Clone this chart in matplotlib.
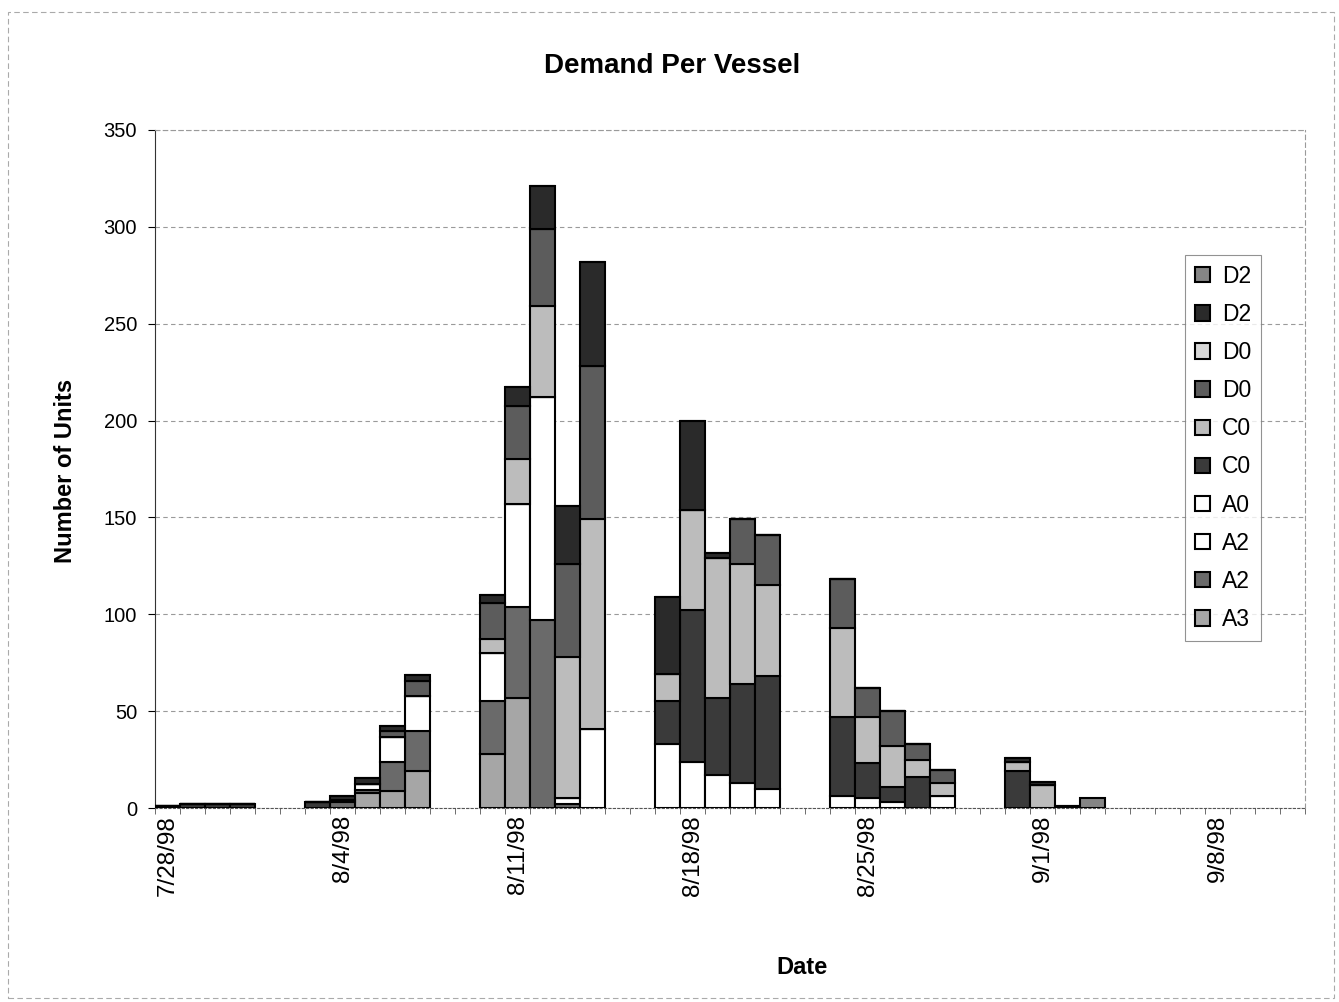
import numpy as np
import matplotlib
matplotlib.use("Agg")
import matplotlib.pyplot as plt
import matplotlib.dates as mdates
from matplotlib.patches import Rectangle
from matplotlib.ticker import FixedLocator, FuncFormatter

plt.rcParams['font.family'] = ['Liberation Sans', 'DejaVu Sans']

# shipping days with demand
dates = ['1998-07-28', '1998-07-29', '1998-07-30', '1998-07-31',
         '1998-08-03', '1998-08-04', '1998-08-05', '1998-08-06', '1998-08-07',
         '1998-08-10', '1998-08-11', '1998-08-12', '1998-08-13', '1998-08-14',
         '1998-08-17', '1998-08-18', '1998-08-19', '1998-08-20', '1998-08-21',
         '1998-08-24', '1998-08-25', '1998-08-26', '1998-08-27', '1998-08-28',
         '1998-08-31', '1998-09-01', '1998-09-02', '1998-09-03']

# units per vessel type, stacked bottom to top
a3      = [0, 0, 0, 0, 0, 0, 8, 9, 19, 28, 57, 0, 0, 0, 0, 0, 0, 0, 0, 0, 0, 0, 0, 0, 0, 0, 0, 0]
a2_dk   = [0, 0, 0, 0, 0, 3, 1.5, 15, 21, 27, 47, 97, 2, 0, 0, 0, 0, 0, 0, 0, 0, 0, 0, 0, 0, 0, 0, 0]
a2_wh   = [0, 0, 0, 0, 0, 1, 3, 12.5, 18, 25, 53, 115, 3, 41, 0, 0, 0, 0, 0, 0, 0, 0, 0, 0, 0, 0, 0, 0]
a0      = [0, 0, 0, 0, 0, 0, 0, 0, 0, 0, 0, 0, 0, 0, 33, 24, 17, 13, 10, 6, 5, 3, 0, 6, 0, 0, 0, 0]
c0_dk   = [1, 2, 2, 2, 3, 0, 0, 0, 0, 0, 0, 0, 0, 0, 22, 78, 40, 51, 58, 41, 18, 8, 16, 0, 19, 0, 0, 0]
c0_lt   = [0, 0, 0, 0, 0, 0, 0, 0, 0, 7, 23, 47, 73, 108, 14, 52, 72, 62, 47, 46, 24, 21, 9, 7, 4.5, 12, 0, 0]
d0_dk   = [0, 0, 0, 0, 0, 0, 0, 3.5, 7.5, 19, 27.5, 40, 48, 79, 0, 0, 0, 23, 26, 25, 15, 18, 8, 6.5, 0, 0, 0, 0]
d0_lt   = [0] * 28
d2_dk   = [0, 0, 0, 0, 0, 2, 3, 2.5, 3, 4, 10, 22, 30, 54, 40, 46, 2.5, 0, 0, 0, 0, 0, 0, 0, 2.5, 1.5, 1, 0]
d2_md   = [0, 0, 0, 0, 0, 0, 0, 0, 0, 0, 0, 0, 0, 0, 0, 0, 0, 0, 0, 0, 0, 0, 0, 0, 0, 0, 0, 5]

series = [
    ('A3', a3, '#a6a6a6'),
    ('A2', a2_dk, '#6a6a6a'),
    ('A2', a2_wh, '#ffffff'),
    ('A0', a0, '#ffffff'),
    ('C0', c0_dk, '#3a3a3a'),
    ('C0', c0_lt, '#bcbcbc'),
    ('D0', d0_dk, '#5c5c5c'),
    ('D0', d0_lt, '#d8d8d8'),
    ('D2', d2_dk, '#2a2a2a'),
    ('D2', d2_md, '#858585'),
]

week_ticks = ['1998-07-28', '1998-08-04', '1998-08-11', '1998-08-18',
              '1998-08-25', '1998-09-01', '1998-09-08']

x = np.array([mdates.datestr2num(d) for d in dates])
xt = np.array([mdates.datestr2num(d) for d in week_ticks])
x0 = mdates.datestr2num('1998-07-28')
x1 = mdates.datestr2num('1998-09-11')

fig = plt.figure(figsize=(13.39, 10.02), dpi=100)
ax = fig.add_axes([0.1158, 0.1936, 0.8588, 0.6767])

bottom = np.zeros(len(dates))
handles = []
for name, vals, col in series:
    vals = np.array(vals, dtype=float)
    b = ax.bar(x, vals, width=1.0, bottom=bottom, color=col,
               edgecolor='black', linewidth=1.5, label=name, zorder=3)
    handles.append(b)
    bottom += vals

ax.set_xlim(x0 - 0.5, x1 + 0.5)
ax.set_ylim(0, 350)
ax.set_yticks(np.arange(0, 351, 50))
ax.yaxis.grid(True, linestyle=(0, (4, 3)), color='#9a9a9a', linewidth=0.8, zorder=0)

ax.xaxis.set_major_locator(FixedLocator(xt))
ax.xaxis.set_major_formatter(FuncFormatter(
    lambda v, p: '{d.month}/{d.day}/{y}'.format(d=mdates.num2date(v), y=mdates.num2date(v).strftime('%y'))))
ax.xaxis.set_minor_locator(FixedLocator(np.arange(x0 - 0.5, x1 + 1.0, 1.0)))
ax.tick_params(axis='x', which='major', length=0, pad=5, labelsize=17.5, labelrotation=90)
ax.tick_params(axis='x', which='minor', length=4, direction='out', color='#555555')
ax.tick_params(axis='y', which='major', length=5, direction='out', labelsize=14.5, pad=8)

ax.spines['left'].set_color('#333333')
ax.spines['bottom'].set_color('#555555')
ax.spines['bottom'].set_linestyle((0, (2, 2)))
for s in ('top', 'right'):
    ax.spines[s].set_color('#9a9a9a')
    ax.spines[s].set_linestyle((0, (4, 3)))
    ax.spines[s].set_linewidth(0.8)

fig.text(0.502, 0.934, 'Demand Per Vessel', ha='center', va='center',
         fontsize=20, fontweight='bold')
fig.text(0.049, 0.53, 'Number of Units', ha='center', va='center',
         rotation=90, fontsize=17, fontweight='bold')
fig.text(0.599, 0.034, 'Date', ha='center', va='center',
         fontsize=17, fontweight='bold')

leg = fig.legend(handles[::-1], [s[0] for s in series][::-1],
                 loc='upper left', bbox_to_anchor=(0.885, 0.746),
                 fontsize=16.5, frameon=True, fancybox=False,
                 handlelength=0.65, handleheight=0.65, handletextpad=0.5,
                 labelspacing=0.66, borderpad=0.45, borderaxespad=0)
leg.get_frame().set_edgecolor('#777777')
leg.get_frame().set_linewidth(0.8)

fig.patches.append(Rectangle((0.006, 0.004), 0.99, 0.984, transform=fig.transFigure,
                             fill=False, edgecolor='#aaaaaa', linewidth=0.8,
                             linestyle=(0, (5, 3))))

fig.savefig('out.png', dpi=100)
